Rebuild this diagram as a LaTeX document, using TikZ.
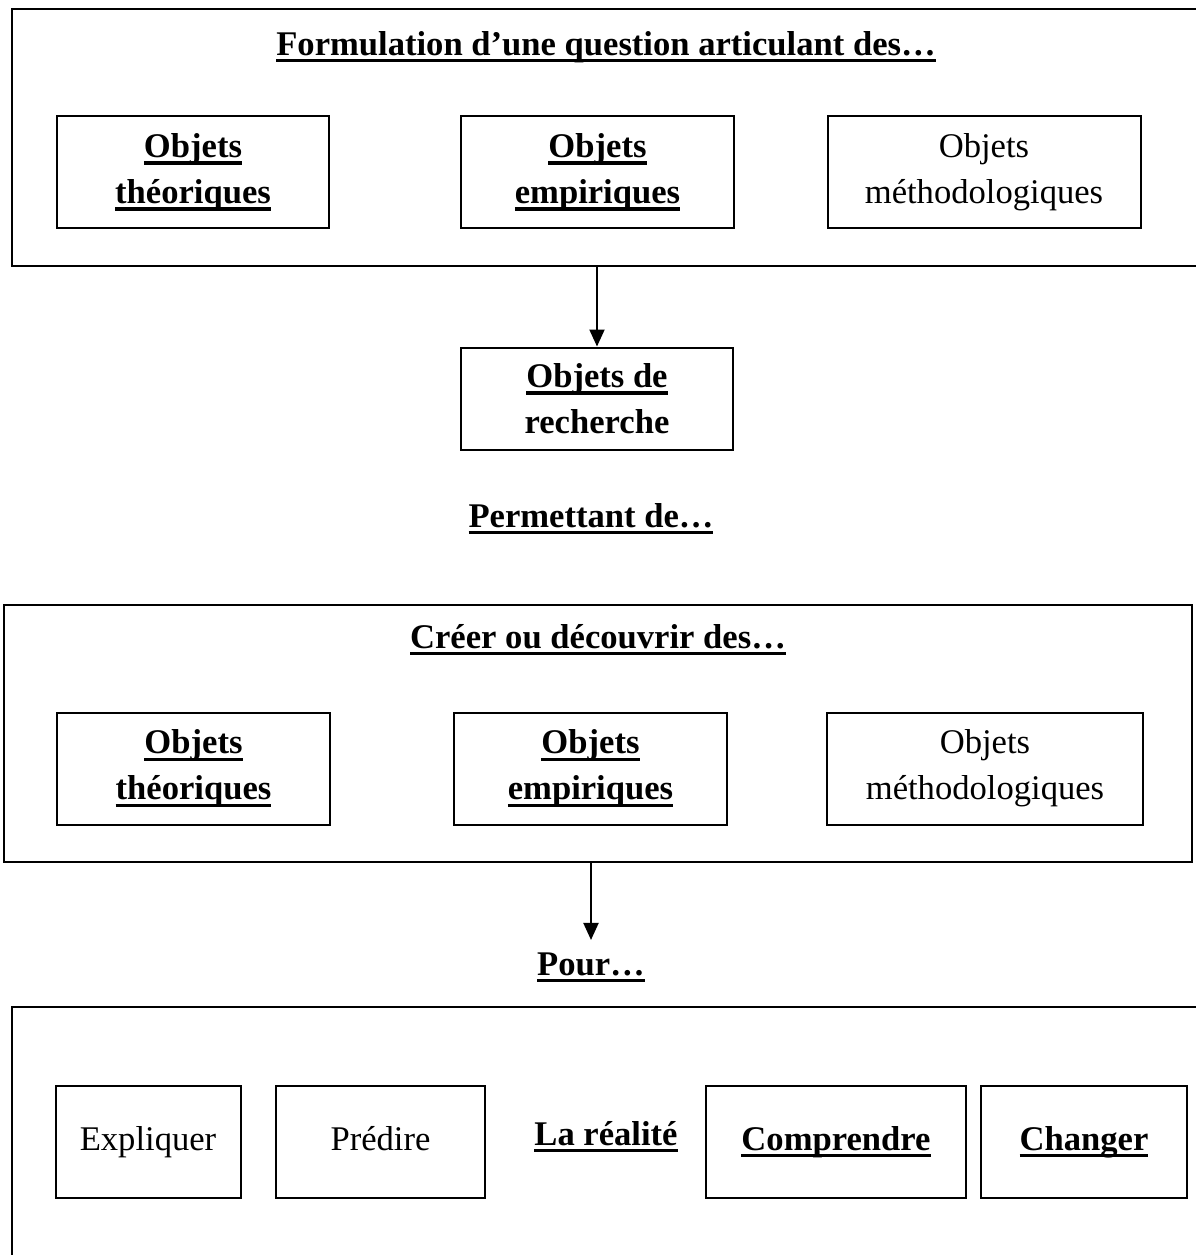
\documentclass[tikz,border=0pt]{standalone}
\usepackage{fontspec}
\setmainfont{Liberation Serif}
\usetikzlibrary{arrows.meta}
% thick underline
\newcommand{\soul}[1]{\setbox0\hbox{#1}\rlap{\rule[-3.6pt]{\wd0}{1.6pt}}\box0}

\begin{document}
\begin{tikzpicture}
        [
        x=0.5pt, y=-0.5pt,
        every node/.style={font=\fontsize{17.3}{23}\selectfont, align=center, inner sep=0pt},
        frame/.style={draw, line width=1.2pt},
        objbox/.style={draw, line width=1pt, minimum height=56pt},
        verbbox/.style={objbox, text height=11.5pt, text depth=3.5pt},
        link/.style={-{Triangle[length=8.5pt,width=7.5pt]}, line width=1pt}
        ]
        \clip (0,0) rectangle (1196,1255);
        % Formulation d'une question
        \node[frame, minimum width=599pt, minimum height=128.5pt] (formu) at (611,137.5) {};
        \node[anchor=base] (formutitle) at (606,55) {\bfseries\soul{Formulation d’une question articulant des…}};
        \node[objbox, minimum width=136pt] (theo1) at (193,172) {\bfseries\soul{Objets}\\\bfseries\soul{théoriques}};
        \node[objbox, minimum width=136.5pt] (empi1) at (597.5,172) {\bfseries\soul{Objets}\\\bfseries\soul{empiriques}};
        \node[objbox, minimum width=156.5pt] (metho1) at (984,172) {Objets\\méthodologiques};
        % Objets de recherche
        \node[objbox, minimum width=136pt, minimum height=51pt] (rech) at (597,398.5) {\bfseries\soul{Objets de}\\\bfseries recherche};
        \node[anchor=base] (perm) at (591,527) {\bfseries\soul{Permettant de…}};
        % Creer ou decouvrir
        \node[frame, minimum width=594pt, minimum height=128.5pt] (crea) at (598,733.5) {};
        \node[anchor=base] (creatitle) at (598,648) {\bfseries\soul{Créer ou découvrir des…}};
        \node[objbox, minimum width=136.5pt] (theo2) at (193.5,768.5) {\bfseries\soul{Objets}\\\bfseries\soul{théoriques}};
        \node[objbox, minimum width=136.5pt] (empi2) at (590.5,768.5) {\bfseries\soul{Objets}\\\bfseries\soul{empiriques}};
        \node[objbox, minimum width=158pt] (metho2) at (985,768.5) {Objets\\méthodologiques};
        \node[anchor=base] (pour) at (591,975) {\bfseries\soul{Pour…}};
        % Pour...
        \node[frame, minimum width=604pt, minimum height=131.5pt] (fin) at (616,1138.5) {};
        \node[verbbox, minimum width=92.5pt] (expl) at (148,1142) {Expliquer};
        \node[verbbox, minimum width=104.5pt] (pred) at (380.5,1142) {Prédire};
        \node[anchor=base] (real) at (606,1145) {\bfseries\soul{La réalité}};
        \node[verbbox, minimum width=130pt] (comp) at (836,1142) {\bfseries\soul{Comprendre}};
        \node[verbbox, minimum width=103pt] (chan) at (1084,1142) {\bfseries\soul{Changer}};
        % Arrows
        \draw[link] (formu.south -| rech.north) -- (rech.north);
        \draw[link] (crea.south -| pour.north) -- ([yshift=6pt]pour.north);
    \end{tikzpicture}
\end{document}
